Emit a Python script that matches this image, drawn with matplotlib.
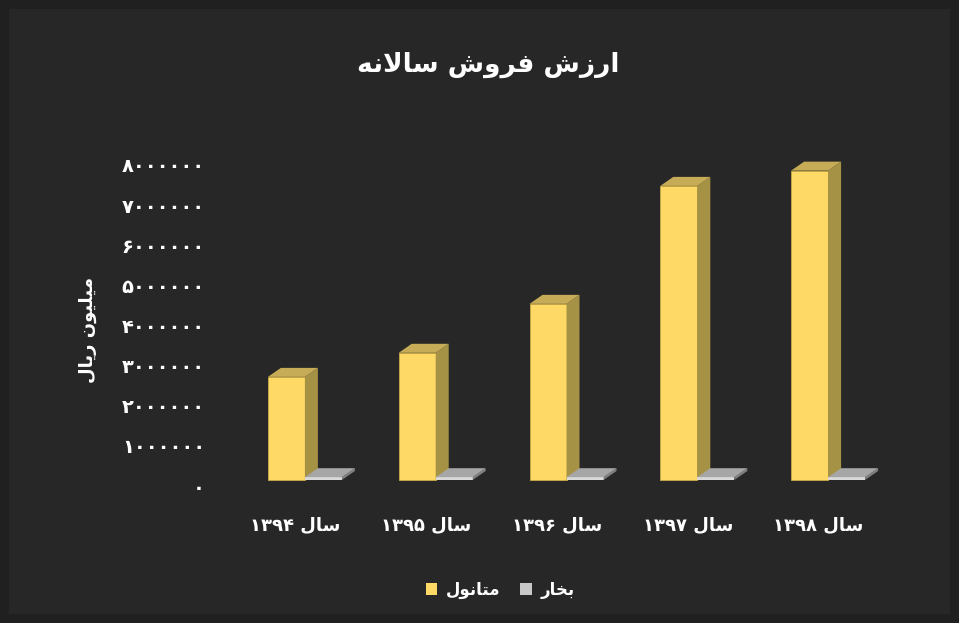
import matplotlib
matplotlib.use('Agg')
import matplotlib.pyplot as plt
from matplotlib.patches import Patch, Polygon, Rectangle
from matplotlib.transforms import offset_copy

# data
years = ['۱۳۹۴', '۱۳۹۵', '۱۳۹۶', '۱۳۹۷', '۱۳۹۸']
methanol = [2570000, 3170000, 4390000, 7330000, 7710000]
steam = [70000, 70000, 70000, 70000, 70000]
yticks = [0, 1000000, 2000000, 3000000, 4000000, 5000000, 6000000, 7000000, 8000000]

title = 'ارزش فروش سالانه'
ylabel = 'میلیون ریال'
year_word = 'سال'
series_names = ['متانول', 'بخار']

# colours
BG_OUT = '#202020'
BG_IN = '#272727'
YEL = ('#FFD966', '#A69245', '#C7AC57')   # front, side, top
GRY = ('#D9D9D9', '#808080', '#A6A6A6')

# --- minimal Arabic-script shaping (matplotlib has no bidi / joining) ---
DUAL = {
    'ب': '\ufe8f\ufe90\ufe91\ufe92', 'ت': '\ufe95\ufe96\ufe97\ufe98',
    'خ': '\ufea5\ufea6\ufea7\ufea8', 'س': '\ufeb1\ufeb2\ufeb3\ufeb4',
    'ش': '\ufeb5\ufeb6\ufeb7\ufeb8', 'ف': '\ufed1\ufed2\ufed3\ufed4',
    'ل': '\ufedd\ufede\ufedf\ufee0', 'م': '\ufee1\ufee2\ufee3\ufee4',
    'ن': '\ufee5\ufee6\ufee7\ufee8', 'ه': '\ufee9\ufeea\ufeeb\ufeec',
    'ی': '\ufbfc\ufbfd\ufbfe\ufbff',
}
RIGHT = {'ا': '\ufe8d\ufe8e', 'ر': '\ufead\ufeae', 'ز': '\ufeaf\ufeb0',
         'و': '\ufeed\ufeee', 'د': '\ufea9\ufeaa'}


def shape(text):
    """Return text in joined presentation forms, in visual (LTR) order."""
    out = []
    n = len(text)
    for i, c in enumerate(text):
        prev = text[i - 1] if i > 0 else ''
        nxt = text[i + 1] if i + 1 < n else ''
        if c == 'ا' and prev == 'ل':
            continue
        jp = prev in DUAL
        if c == 'ل' and nxt == 'ا':
            out.append('\ufefc' if jp else '\ufefb')
            continue
        jn = nxt in DUAL or nxt in RIGHT
        if c in DUAL:
            k = 3 if (jp and jn) else 1 if jp else 2 if jn else 0
            out.append(DUAL[c][k])
        elif c in RIGHT:
            out.append(RIGHT[c][1 if jp else 0])
        else:
            out.append(c)
    return ''.join(reversed(out))


def fa_digits(v):
    return str(v).translate(str.maketrans('0123456789', '۰۱۲۳۴۵۶۷۸۹'))


plt.rcParams['font.family'] = ['DejaVu Sans']

W, H = 959, 623
fig = plt.figure(figsize=(W / 100, H / 100), dpi=100)
fig.patch.set_facecolor(BG_OUT)
fig.patches.append(Rectangle((9 / W, 9 / H), 941 / W, 605 / H, transform=fig.transFigure,
                             facecolor=BG_IN, edgecolor='none', zorder=-1))

ax_l, ax_b, ax_w, ax_h = 221, 480, 654, 321   # pixels (bottom measured from top)
ax = fig.add_axes([ax_l / W, (H - ax_b) / H, ax_w / W, ax_h / H])
ax.set_xlim(-0.5, 4.5)
ax.set_ylim(0, 8000000)
ax.axis('off')

px_x = ax_w / 5.0
px_y = ax_h / 8000000.0
dx = 13 / px_x   # depth offset of the 3D boxes
dy = 9 / px_y
bw = 37 / px_x

x = list(range(len(years)))


def box(rects, colors):
    front, side, top = colors
    for r in rects:
        x0 = r.get_x()
        x1 = x0 + r.get_width()
        h = r.get_height()
        ax.add_patch(Polygon([(x1, 0), (x1, h), (x1 + dx, h + dy), (x1 + dx, dy)],
                             closed=True, facecolor=side, edgecolor='none', clip_on=False))
        ax.add_patch(Polygon([(x0, h), (x1, h), (x1 + dx, h + dy), (x0 + dx, h + dy)],
                             closed=True, facecolor=top, edgecolor='none', clip_on=False))
        r.set_clip_on(False)


b1 = ax.bar(x, methanol, width=bw, color=YEL[0], edgecolor='#C9A948', linewidth=0.6)
box(b1, YEL)
b2 = ax.bar([i + bw for i in x], steam, width=bw, color=GRY[0], edgecolor='none')
box(b2, GRY)

# y tick labels (Excel 3D puts them slightly below the front face scale)
tick_tr = offset_copy(ax.transData, fig=fig, x=-16, y=-8, units='dots')
for v in yticks:
    ax.text(-0.5, v, fa_digits(v), transform=tick_tr, ha='right', va='center',
            color='white', fontsize=14, fontweight='bold')

# category labels
cat_tr = offset_copy(ax.transData, fig=fig, x=9, y=-45, units='dots')
for i, yr in enumerate(years):
    ax.text(i, 0, yr + ' ' + shape(year_word), transform=cat_tr, ha='center',
            va='center', color='white', fontsize=13, fontweight='bold')

fig.text(88 / W, 1 - 330 / H, shape(ylabel), rotation=90, ha='center', va='center',
         color='white', fontsize=13, fontweight='bold')
fig.text(488 / W, 1 - 65 / H, shape(title), ha='center', va='center',
         color='white', fontsize=19, fontweight='bold')

handles = [Patch(facecolor=YEL[0]), Patch(facecolor='#C8C8C8')]
fig.legend(handles, [shape(s) for s in series_names], loc='center',
           bbox_to_anchor=(500 / W, 1 - 590 / H), ncol=2, frameon=False,
           labelcolor='white', prop={'size': 12, 'weight': 'bold'},
           handlelength=0.7, handleheight=0.7, handletextpad=0.5, columnspacing=1.2)

fig.savefig('out.png', dpi=100, facecolor=fig.get_facecolor())
